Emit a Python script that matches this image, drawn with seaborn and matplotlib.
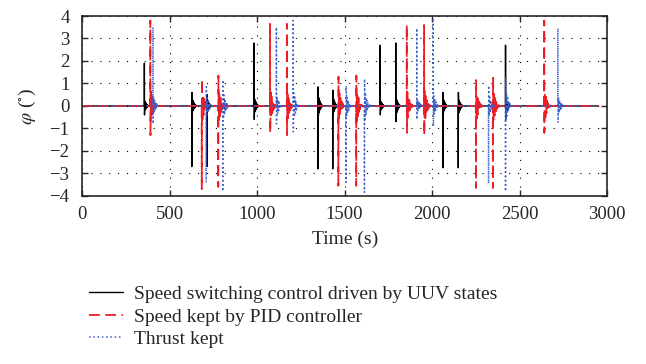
import numpy as np
import pandas as pd
import matplotlib
matplotlib.use("Agg")
import matplotlib.pyplot as plt
import seaborn as sns

# ---- data ----
# each spike: time (s), first extreme, second extreme (deg)
black_t = [356, 627, 714, 983, 1347, 1432, 1703, 1792, 2061, 2149, 2419]
black_a = [1.9, -2.7, -2.7, 2.8, -2.8, -2.8, 2.7, 2.8, -2.75, -2.75, 2.7]
black_b = [-0.4, 0.6, 0.5, -0.6, 0.85, 0.7, -0.4, -0.7, 0.6, 0.6, -0.6]

red_t = [390, 684, 778, 1074, 1170, 1464, 1566, 1855, 1954, 2250, 2347, 2640]
red_a = [3.8, -3.7, -3.6, 3.65, 3.65, -3.55, -3.55, 3.6, 3.6, -3.65, -3.65, 3.8]
red_b = [-1.3, 1.2, 1.35, -1.2, -1.3, 1.3, 1.35, -1.2, -1.3, 1.15, 1.25, -1.2]

blue_t = [405, 709, 804, 1110, 1206, 1508, 1613, 1912, 2006, 2322, 2419, 2718]
blue_a = [3.5, -3.4, -3.8, 3.5, 3.8, -3.4, -3.85, 3.45, 3.9, -3.45, -3.8, 3.45]
blue_b = [-0.8, 0.85, 1.15, -0.8, -1.15, 0.9, 1.2, -0.6, -0.9, 0.9, 1.3, -0.75]

# relative ringing amplitudes after each spike
ring = [0.5, -0.42, 0.34, -0.27, 0.2, -0.15, 0.11, -0.08, 0.05, -0.03, 0.02, -0.01]
t_end = 2950

labels = ["Speed switching control driven by UUV states",
          "Speed kept by PID controller",
          "Thrust kept"]


def build(ts, a, b, dt):
    xs, ys = [0.0], [0.0]
    for t, p, q in zip(ts, a, b):
        xs += [t - 0.5, t, t + 0.8]
        ys += [0.0, p, q]
        for k, r in enumerate(ring):
            xs.append(t + 0.8 + dt * (k + 1))
            ys.append(r * abs(q) * (1 if p > 0 else -1))
        xs.append(t + 0.8 + dt * (len(ring) + 1))
        ys.append(0.0)
    xs.append(t_end)
    ys.append(0.0)
    return pd.DataFrame({"t": xs, "phi": ys})


sns.set_style("ticks")
plt.rcParams["font.family"] = ["Liberation Serif", "DejaVu Serif"]
plt.rcParams["mathtext.fontset"] = "stix"

fig = plt.figure(figsize=(6.46, 3.64), dpi=100)
ax = fig.add_axes([0.127, 0.462, 0.813, 0.494])

series = [
    (build(black_t, black_a, black_b, 2.5), "black", "-", 1.0),
    (build(red_t, red_a, red_b, 3.0), "#ee1c25", (0, (6, 3)), 1.3),
    (build(blue_t, blue_a, blue_b, 3.0), "#3a5fc8", (0, (1, 1.8)), 1.1),
]
for (df, c, ls, lw), lab in zip(series, labels):
    sns.lineplot(data=df, x="t", y="phi", ax=ax, color=c, linestyle=ls,
                 linewidth=lw, sort=False, estimator=None, label=lab,
                 legend=False)

ax.set_xlim(0, 3000)
ax.set_ylim(-4, 4)
ax.set_xticks(np.arange(0, 3001, 500))
ax.set_yticks(np.arange(-4, 5, 1))
ax.grid(True, color="black", linestyle=(0, (1, 7)), linewidth=0.8)
ax.tick_params(direction="in", top=True, right=True, length=4,
               labelsize=13.5, width=1, pad=7)
ax.tick_params(axis="y", pad=9)
for s in ax.spines.values():
    s.set_linewidth(1.2)
    s.set_visible(True)
ax.set_xlabel("Time (s)", fontsize=14, labelpad=6)
ax.set_ylabel(r"$\varphi$ ($^{\circ}$)", fontsize=14, labelpad=8)

handles, labs = ax.get_legend_handles_labels()
fig.legend(handles, labs, loc="upper left", bbox_to_anchor=(0.125, 0.237),
           frameon=False, fontsize=14, handlelength=1.75, handletextpad=0.6,
           labelspacing=0.25, borderaxespad=0)

fig.savefig("out.png", dpi=100)
